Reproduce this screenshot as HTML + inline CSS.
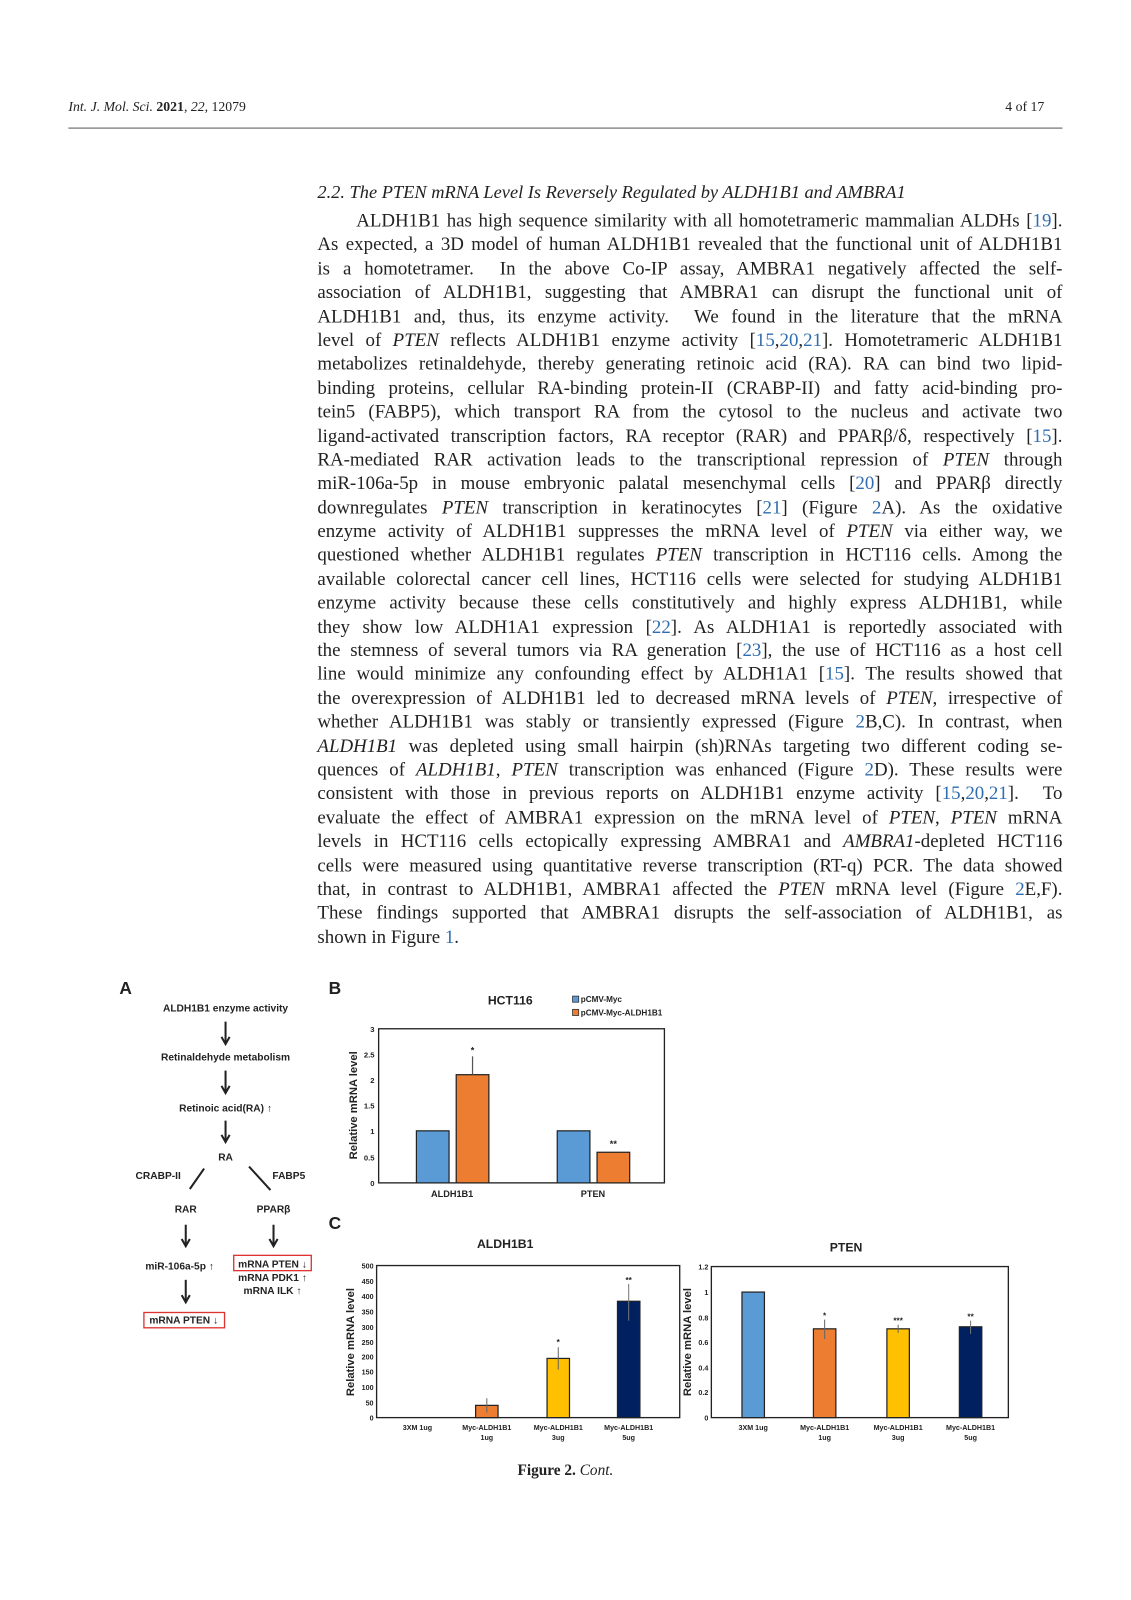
<!DOCTYPE html>
<html><head><meta charset="utf-8">
<style>
html,body{margin:0;padding:0;background:#fff;}
body{width:1131px;height:1600px;position:relative;overflow:hidden;font-family:"Liberation Serif",serif;color:#222;}
#w{position:absolute;left:0;top:0;width:1108px;height:1568px;transform:scale(1.0206);transform-origin:0 0;}
.hdr{position:absolute;top:97px;font-size:13.5px;}
.rule{position:absolute;left:67px;top:125px;width:974px;height:1px;background:#555;}
.h2{position:absolute;left:311px;top:178px;font-size:18px;font-style:italic;white-space:nowrap;}
.txt{position:absolute;left:311px;top:206px;width:730px;font-size:18.5px;line-height:23.4px;}
.l{white-space:nowrap;text-align:justify;text-align-last:justify;height:23.4px;}
.last{text-align-last:left;}
.c{color:#2f6db0;}
svg{position:absolute;left:0;top:0;}
svg text{font-family:"Liberation Sans",sans-serif;font-weight:bold;fill:#222;}
</style></head><body><div id="w">
<div class="hdr" style="left:67px;"><i>Int. J. Mol. Sci.</i> <b>2021</b>, <i>22</i>, 12079</div>
<div class="hdr" style="left:985px;">4 of 17</div>
<div class="rule"></div>
<div class="h2">2.2. The PTEN mRNA Level Is Reversely Regulated by ALDH1B1 and AMBRA1</div>
<div class="txt">
<div class="l" style="padding-left:38px">ALDH1B1 has high sequence similarity with all homotetrameric mammalian ALDHs [<span class="c">19</span>].</div>
<div class="l">As expected, a 3D model of human ALDH1B1 revealed that the functional unit of ALDH1B1</div>
<div class="l">is a homotetramer. &nbsp;In the above Co-IP assay, AMBRA1 negatively affected the self-</div>
<div class="l">association of ALDH1B1, suggesting that AMBRA1 can disrupt the functional unit of</div>
<div class="l">ALDH1B1 and, thus, its enzyme activity. &nbsp;We found in the literature that the mRNA</div>
<div class="l">level of <i>PTEN</i> reflects ALDH1B1 enzyme activity [<span class="c">15</span>,<span class="c">20</span>,<span class="c">21</span>]. Homotetrameric ALDH1B1</div>
<div class="l">metabolizes retinaldehyde, thereby generating retinoic acid (RA). RA can bind two lipid-</div>
<div class="l">binding proteins, cellular RA-binding protein-II (CRABP-II) and fatty acid-binding pro-</div>
<div class="l">tein5 (FABP5), which transport RA from the cytosol to the nucleus and activate two</div>
<div class="l">ligand-activated transcription factors, RA receptor (RAR) and PPARβ/δ, respectively [<span class="c">15</span>].</div>
<div class="l">RA-mediated RAR activation leads to the transcriptional repression of <i>PTEN</i> through</div>
<div class="l">miR-106a-5p in mouse embryonic palatal mesenchymal cells [<span class="c">20</span>] and PPARβ directly</div>
<div class="l">downregulates <i>PTEN</i> transcription in keratinocytes [<span class="c">21</span>] (Figure <span class="c">2</span>A). As the oxidative</div>
<div class="l">enzyme activity of ALDH1B1 suppresses the mRNA level of <i>PTEN</i> via either way, we</div>
<div class="l">questioned whether ALDH1B1 regulates <i>PTEN</i> transcription in HCT116 cells. Among the</div>
<div class="l">available colorectal cancer cell lines, HCT116 cells were selected for studying ALDH1B1</div>
<div class="l">enzyme activity because these cells constitutively and highly express ALDH1B1, while</div>
<div class="l">they show low ALDH1A1 expression [<span class="c">22</span>]. As ALDH1A1 is reportedly associated with</div>
<div class="l">the stemness of several tumors via RA generation [<span class="c">23</span>], the use of HCT116 as a host cell</div>
<div class="l">line would minimize any confounding effect by ALDH1A1 [<span class="c">15</span>]. The results showed that</div>
<div class="l">the overexpression of ALDH1B1 led to decreased mRNA levels of <i>PTEN</i>, irrespective of</div>
<div class="l">whether ALDH1B1 was stably or transiently expressed (Figure <span class="c">2</span>B,C). In contrast, when</div>
<div class="l"><i>ALDH1B1</i> was depleted using small hairpin (sh)RNAs targeting two different coding se-</div>
<div class="l">quences of <i>ALDH1B1</i>, <i>PTEN</i> transcription was enhanced (Figure <span class="c">2</span>D). These results were</div>
<div class="l">consistent with those in previous reports on ALDH1B1 enzyme activity [<span class="c">15</span>,<span class="c">20</span>,<span class="c">21</span>]. &nbsp;To</div>
<div class="l">evaluate the effect of AMBRA1 expression on the mRNA level of <i>PTEN</i>, <i>PTEN</i> mRNA</div>
<div class="l">levels in HCT116 cells ectopically expressing AMBRA1 and <i>AMBRA1</i>-depleted HCT116</div>
<div class="l">cells were measured using quantitative reverse transcription (RT-q) PCR. The data showed</div>
<div class="l">that, in contrast to ALDH1B1, AMBRA1 affected the <i>PTEN</i> mRNA level (Figure <span class="c">2</span>E,F).</div>
<div class="l">These findings supported that AMBRA1 disrupts the self-association of ALDH1B1, as</div>
<div class="l last">shown in Figure <span class="c">1</span>.</div>
</div>

<svg width="1108" height="1568" viewBox="0 0 1108 1568">
<!-- Panel A -->
<text x="117" y="974" font-size="17">A</text>
<g font-size="10" text-anchor="middle">
<text x="221" y="991">ALDH1B1 enzyme activity</text>
<text x="221" y="1039">Retinaldehyde metabolism</text>
<text x="221" y="1089">Retinoic acid(RA) ↑</text>
<text x="221" y="1137">RA</text>
<text x="155" y="1155">CRABP-II</text>
<text x="283" y="1155">FABP5</text>
<text x="182" y="1188">RAR</text>
<text x="268" y="1188">PPARβ</text>
<text x="176" y="1244">miR-106a-5p ↑</text>
<text x="267" y="1242">mRNA PTEN ↓</text>
<text x="267" y="1255">mRNA PDK1 ↑</text>
<text x="267" y="1268">mRNA ILK ↑</text>
<text x="180" y="1297">mRNA PTEN ↓</text>
</g>
<g stroke="#222" stroke-width="2" fill="none">
<line x1="221" y1="1001" x2="221" y2="1022"/><path d="M217,1016 L221,1023 L225,1016"/>
<line x1="221" y1="1049" x2="221" y2="1070"/><path d="M217,1064 L221,1071 L225,1064"/>
<line x1="221" y1="1098" x2="221" y2="1118"/><path d="M217,1112 L221,1119 L225,1112"/>
<line x1="200" y1="1145" x2="186" y2="1165"/>
<line x1="244" y1="1143" x2="265" y2="1166"/>
<line x1="182" y1="1200" x2="182" y2="1220"/><path d="M178,1214 L182,1221 L186,1214"/>
<line x1="268" y1="1200" x2="268" y2="1220"/><path d="M264,1214 L268,1221 L272,1214"/>
<line x1="182" y1="1254" x2="182" y2="1275"/><path d="M178,1269 L182,1276 L186,1269"/>
</g>
<rect x="229" y="1230" width="76" height="15" fill="none" stroke="#d33" stroke-width="1.3"/>
<rect x="141" y="1286" width="79" height="15" fill="none" stroke="#d33" stroke-width="1.3"/>

<!-- Panel B -->
<text x="322" y="974" font-size="17">B</text>
<text x="500" y="984" font-size="12" text-anchor="middle">HCT116</text>
<rect x="561" y="976" width="6" height="6" fill="#5B9BD5" stroke="#333" stroke-width="0.8"/>
<text x="569" y="982" font-size="8">pCMV-Myc</text>
<rect x="561" y="989" width="6" height="6" fill="#ED7D31" stroke="#333" stroke-width="0.8"/>
<text x="569" y="995" font-size="8">pCMV-Myc-ALDH1B1</text>
<rect x="371" y="1008" width="280" height="151" fill="none" stroke="#222" stroke-width="1.3"/>
<g font-size="7.5" text-anchor="end">
<text x="367" y="1162">0</text><text x="367" y="1137">0.5</text><text x="367" y="1111">1</text><text x="367" y="1086">1.5</text><text x="367" y="1061">2</text><text x="367" y="1036">2.5</text><text x="367" y="1011">3</text>
</g>
<text transform="translate(350,1083) rotate(-90)" font-size="11" text-anchor="middle">Relative mRNA level</text>
<rect x="408" y="1108" width="32" height="51" fill="#5B9BD5" stroke="#222" stroke-width="1.2"/>
<rect x="447" y="1053" width="32" height="106" fill="#ED7D31" stroke="#222" stroke-width="1.2"/>
<line x1="463" y1="1053" x2="463" y2="1035" stroke="#555" stroke-width="1.2"/>
<rect x="546" y="1108" width="32" height="51" fill="#5B9BD5" stroke="#222" stroke-width="1.2"/>
<rect x="585" y="1129" width="32" height="30" fill="#ED7D31" stroke="#222" stroke-width="1.2"/>
<text x="463" y="1032" font-size="9" text-anchor="middle">*</text>
<text x="601" y="1124" font-size="9" text-anchor="middle">**</text>
<text x="443" y="1173" font-size="9" text-anchor="middle">ALDH1B1</text>
<text x="581" y="1173" font-size="9" text-anchor="middle">PTEN</text>

<!-- Panel C -->
<text x="322" y="1204" font-size="17">C</text>
<text x="495" y="1223" font-size="12" text-anchor="middle">ALDH1B1</text>
<rect x="369" y="1240" width="297" height="149" fill="none" stroke="#222" stroke-width="1.3"/>
<g font-size="7" text-anchor="end">
<text x="366" y="1392">0</text><text x="366" y="1377">50</text><text x="366" y="1362">100</text><text x="366" y="1347">150</text><text x="366" y="1332">200</text><text x="366" y="1318">250</text><text x="366" y="1303">300</text><text x="366" y="1288">350</text><text x="366" y="1273">400</text><text x="366" y="1258">450</text><text x="366" y="1243">500</text>
</g>
<text transform="translate(347,1315) rotate(-90)" font-size="11" text-anchor="middle">Relative mRNA level</text>
<rect x="466" y="1377" width="22" height="12" fill="#ED7D31" stroke="#222" stroke-width="1.2"/>
<line x1="477" y1="1370" x2="477" y2="1384" stroke="#666"/>
<rect x="536" y="1331" width="22" height="58" fill="#FFC000" stroke="#222" stroke-width="1.2"/>
<line x1="547" y1="1320" x2="547" y2="1342" stroke="#666"/>
<rect x="605" y="1275" width="22" height="114" fill="#002060" stroke="#222" stroke-width="1.2"/>
<line x1="616" y1="1258" x2="616" y2="1294" stroke="#777"/>
<text x="547" y="1318" font-size="8" text-anchor="middle">*</text>
<text x="616" y="1257" font-size="8" text-anchor="middle">**</text>
<g font-size="7" text-anchor="middle">
<text x="409" y="1401">3XM 1ug</text>
<text x="477" y="1401">Myc-ALDH1B1</text><text x="477" y="1411">1ug</text>
<text x="547" y="1401">Myc-ALDH1B1</text><text x="547" y="1411">3ug</text>
<text x="616" y="1401">Myc-ALDH1B1</text><text x="616" y="1411">5ug</text>
</g>

<text x="829" y="1226" font-size="12" text-anchor="middle">PTEN</text>
<rect x="697" y="1241" width="291" height="148" fill="none" stroke="#222" stroke-width="1.3"/>
<g font-size="7" text-anchor="end">
<text x="694" y="1392">0</text><text x="694" y="1367">0.2</text><text x="694" y="1343">0.4</text><text x="694" y="1318">0.6</text><text x="694" y="1294">0.8</text><text x="694" y="1269">1</text><text x="694" y="1244">1.2</text>
</g>
<text transform="translate(677,1315) rotate(-90)" font-size="11" text-anchor="middle">Relative mRNA level</text>
<rect x="727" y="1266" width="22" height="123" fill="#5B9BD5" stroke="#222" stroke-width="1.2"/>
<rect x="797" y="1302" width="22" height="87" fill="#ED7D31" stroke="#222" stroke-width="1.2"/>
<line x1="808" y1="1293" x2="808" y2="1312" stroke="#666"/>
<rect x="869" y="1302" width="22" height="87" fill="#FFC000" stroke="#222" stroke-width="1.2"/>
<line x1="880" y1="1298" x2="880" y2="1306" stroke="#666"/>
<rect x="940" y="1300" width="22" height="89" fill="#002060" stroke="#222" stroke-width="1.2"/>
<line x1="951" y1="1294" x2="951" y2="1307" stroke="#777"/>
<text x="808" y="1292" font-size="8" text-anchor="middle">*</text>
<text x="880" y="1297" font-size="8" text-anchor="middle">***</text>
<text x="951" y="1293" font-size="8" text-anchor="middle">**</text>
<g font-size="7" text-anchor="middle">
<text x="738" y="1401">3XM 1ug</text>
<text x="808" y="1401">Myc-ALDH1B1</text><text x="808" y="1411">1ug</text>
<text x="880" y="1401">Myc-ALDH1B1</text><text x="880" y="1411">3ug</text>
<text x="951" y="1401">Myc-ALDH1B1</text><text x="951" y="1411">5ug</text>
</g>
</svg>
<div style="position:absolute;left:0;width:1108px;top:1433px;text-align:center;font-size:15px;"><b>Figure 2.</b> <i>Cont.</i></div>
</div></body></html>
